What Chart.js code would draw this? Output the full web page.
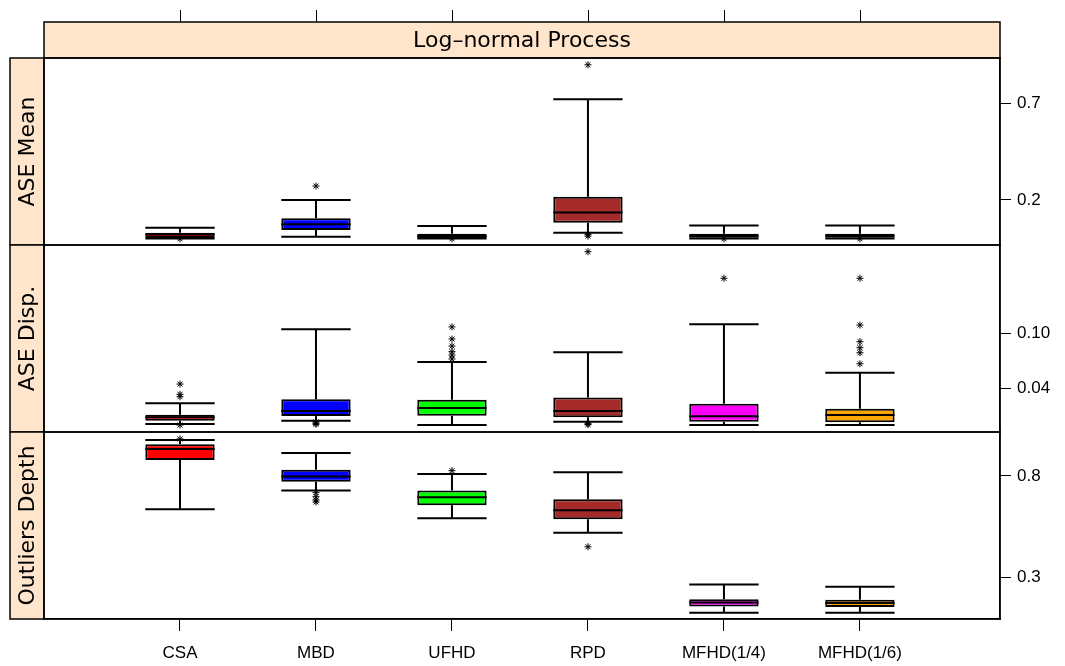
<!DOCTYPE html>
<html>
<head>
<meta charset="utf-8">
<script src="https://cdn.jsdelivr.net/npm/chart.js@4.4.0/dist/chart.umd.min.js"></script>
<style>
  html, body { margin: 0; padding: 0; background: #fff; }
  #wrap { width: 1065px; height: 666px; }
</style>
</head>
<body>
<div id="wrap"><canvas id="myChart" width="1065" height="666"></canvas></div>
<script>
const categories = ['CSA', 'MBD', 'UFHD', 'RPD', 'MFHD(1/4)', 'MFHD(1/6)'];
const boxColors = ['#FF0000', '#0000FF', '#00FF00', '#A52A2A', '#FF00FF', '#FFA500'];
const panelTitles = ['ASE Mean', 'ASE Disp.', 'Outliers Depth'];
const stripTitle = 'Log\u2013normal Process';
const xRange = [0, 7.03];

// ASE Mean
const meanLow  = [0.002, 0.011, 0.002, 0.031, 0.002, 0.002];
const meanQ1   = [0.004, 0.045, 0.004, 0.083, 0.006, 0.006];
const meanMed  = [0.022, 0.075, 0.015, 0.135, 0.016, 0.016];
const meanQ3   = [0.031, 0.106, 0.026, 0.217, 0.026, 0.026];
const meanHigh = [0.057, 0.200, 0.066, 0.719, 0.068, 0.068];
const meanOut  = [[0.0], [0.272], [0.0], [0.897, 0.023, 0.014], [0.0], [0.0]];
const meanTicks = [0.2, 0.7];
const meanTickLabels = ['0.2', '0.7'];
const meanRange = [-0.032, 0.932];

// ASE Disp.
const dispLow  = [0.0011, 0.0047, 0.0, 0.0036, 0.0, 0.0];
const dispQ1   = [0.0047, 0.0098, 0.0101, 0.0084, 0.0036, 0.0029];
const dispMed  = [0.0084, 0.0153, 0.0185, 0.0153, 0.0095, 0.0109];
const dispQ3   = [0.0112, 0.0280, 0.0276, 0.0300, 0.0232, 0.0178];
const dispHigh = [0.0237, 0.1044, 0.0687, 0.0793, 0.1098, 0.0570];
const dispOut  = [
  [0.0447, 0.0335, 0.0309, 0.0],
  [0.0033, 0.0019, 0.0008],
  [0.107, 0.0938, 0.0861, 0.080, 0.0763, 0.072],
  [0.189, 0.0015, 0.0005],
  [0.160],
  [0.160, 0.109, 0.0909, 0.0843, 0.0788, 0.0668]
];
const dispTicks = [0.04, 0.10];
const dispTickLabels = ['0.04', '0.10'];
const dispRange = [-0.0076, 0.1963];

// Outliers Depth
const depthLow  = [0.636, 0.728, 0.592, 0.521, 0.128, 0.128];
const depthQ1   = [0.879, 0.772, 0.656, 0.587, 0.158, 0.156];
const depthMed  = [0.933, 0.797, 0.695, 0.631, 0.178, 0.176];
const depthQ3   = [0.956, 0.831, 0.728, 0.685, 0.194, 0.192];
const depthHigh = [0.977, 0.913, 0.810, 0.818, 0.267, 0.256];
const depthOut  = [[0.982], [0.718, 0.698, 0.682, 0.672], [0.826], [0.452], [], []];
const depthTicks = [0.3, 0.8];
const depthTickLabels = ['0.3', '0.8'];
const depthRange = [0.097, 1.016];

const half = 0.255;
const font = '"DejaVu Sans", sans-serif';
const tickFont = '"Liberation Sans", Arial, sans-serif';

function boxDatasets(axis, low, q1, med, q3, high, out) {
  const bars = categories.map((c, i) => ({ x: i + 1, y: [q1[i], q3[i]] }));
  const lines = [];
  const pts = [];
  categories.forEach((c, i) => {
    const x = i + 1;
    lines.push({ x: x, y: q3[i] }, { x: x, y: high[i] }, { x: x, y: null });
    lines.push({ x: x - half, y: high[i] }, { x: x + half, y: high[i] }, { x: x, y: null });
    lines.push({ x: x, y: q1[i] }, { x: x, y: low[i] }, { x: x, y: null });
    lines.push({ x: x - half, y: low[i] }, { x: x + half, y: low[i] }, { x: x, y: null });
    lines.push({ x: x - half, y: med[i] }, { x: x + half, y: med[i] }, { x: x, y: null });
    out[i].forEach(v => pts.push({ x: x, y: v }));
  });
  return [
    {
      type: 'bar', yAxisID: axis, data: bars, order: 3,
      backgroundColor: boxColors, borderColor: '#000', borderWidth: 2,
      borderSkipped: false, grouped: false,
      barPercentage: 1, categoryPercentage: 0.51
    },
    {
      type: 'line', yAxisID: axis, data: lines, order: 2,
      borderColor: '#000', borderWidth: 2, pointRadius: 0,
      spanGaps: false, fill: false
    },
    {
      type: 'line', yAxisID: axis, data: pts, order: 1, showLine: false,
      pointStyle: 'star', pointRadius: 3.5, borderColor: '#000',
      backgroundColor: '#000', pointBorderWidth: 1
    }
  ];
}

function yScale(range, ticks, labels) {
  return {
    type: 'linear', position: 'right', stack: 'panels', stackWeight: 1,
    min: range[0], max: range[1],
    afterBuildTicks: s => { s.ticks = ticks.map(v => ({ value: v })); },
    afterFit: s => { s.width = 65; },
    grid: { drawOnChartArea: false, drawTicks: true, tickLength: 11, color: '#000', lineWidth: 1 },
    border: { display: true, color: '#000', width: 1.5 },
    ticks: {
      color: '#000', font: { family: tickFont, size: 17 }, padding: 6,
      autoSkip: false, callback: (v, i) => labels[i]
    }
  };
}

const latticeFrame = {
  id: 'latticeFrame',
  afterDraw(chart) {
    const ctx = chart.ctx;
    const a = chart.chartArea;
    const xs = chart.scales.x;
    ctx.save();
    ctx.strokeStyle = '#000';
    ctx.lineWidth = 1.5;
    // top strip
    ctx.fillStyle = '#FFE5CC';
    ctx.fillRect(a.left, 22, a.right - a.left, a.top - 22);
    ctx.strokeRect(a.left, 22, a.right - a.left, a.top - 22);
    ctx.fillStyle = '#000';
    ctx.font = '22px ' + font;
    ctx.textAlign = 'center';
    ctx.textBaseline = 'middle';
    ctx.fillText(stripTitle, (a.left + a.right) / 2, (22 + a.top) / 2 + 1);
    // top ticks
    ctx.lineWidth = 1;
    categories.forEach((c, i) => {
      const px = Math.round(xs.getPixelForValue(i + 1)) + 0.5;
      ctx.beginPath();
      ctx.moveTo(px, 10);
      ctx.lineTo(px, 22);
      ctx.stroke();
    });
    // panels + left strips
    ctx.lineWidth = 1.5;
    ['y1', 'y2', 'y3'].forEach((id, k) => {
      const s = chart.scales[id];
      ctx.fillStyle = '#FFE5CC';
      ctx.fillRect(10, s.top, a.left - 10, s.bottom - s.top);
      ctx.strokeRect(10, s.top, a.left - 10, s.bottom - s.top);
      ctx.strokeRect(a.left, s.top, a.right - a.left, s.bottom - s.top);
      ctx.save();
      ctx.translate((10 + a.left) / 2 + 1, (s.top + s.bottom) / 2);
      ctx.rotate(-Math.PI / 2);
      ctx.fillStyle = '#000';
      ctx.font = '22px ' + font;
      ctx.fillText(panelTitles[k], 0, 0);
      ctx.restore();
    });
    ctx.restore();
  }
};

const datasets = [].concat(
  boxDatasets('y1', meanLow, meanQ1, meanMed, meanQ3, meanHigh, meanOut),
  boxDatasets('y2', dispLow, dispQ1, dispMed, dispQ3, dispHigh, dispOut),
  boxDatasets('y3', depthLow, depthQ1, depthMed, depthQ3, depthHigh, depthOut)
);

new Chart(document.getElementById('myChart'), {
  type: 'bar',
  data: { datasets: datasets },
  options: {
    responsive: false,
    animation: false,
    layout: { padding: { left: 44, top: 58, right: 0, bottom: 0 } },
    plugins: { legend: { display: false }, tooltip: { enabled: false } },
    scales: {
      x: {
        type: 'linear', position: 'bottom', min: xRange[0], max: xRange[1],
        offset: false,
        afterBuildTicks: s => { s.ticks = categories.map((c, i) => ({ value: i + 1 })); },
        afterFit: s => { s.height = 47; },
        grid: { drawOnChartArea: false, drawTicks: true, tickLength: 12, color: '#000', offset: false },
        border: { display: true, color: '#000', width: 1.5 },
        ticks: {
          color: '#000', font: { family: tickFont, size: 17 }, padding: 12,
          autoSkip: false, maxRotation: 0, callback: (v, i) => categories[i]
        }
      },
      y1: yScale(meanRange, meanTicks, meanTickLabels),
      y2: yScale(dispRange, dispTicks, dispTickLabels),
      y3: yScale(depthRange, depthTicks, depthTickLabels)
    }
  },
  plugins: [latticeFrame]
});
</script>
</body>
</html>
